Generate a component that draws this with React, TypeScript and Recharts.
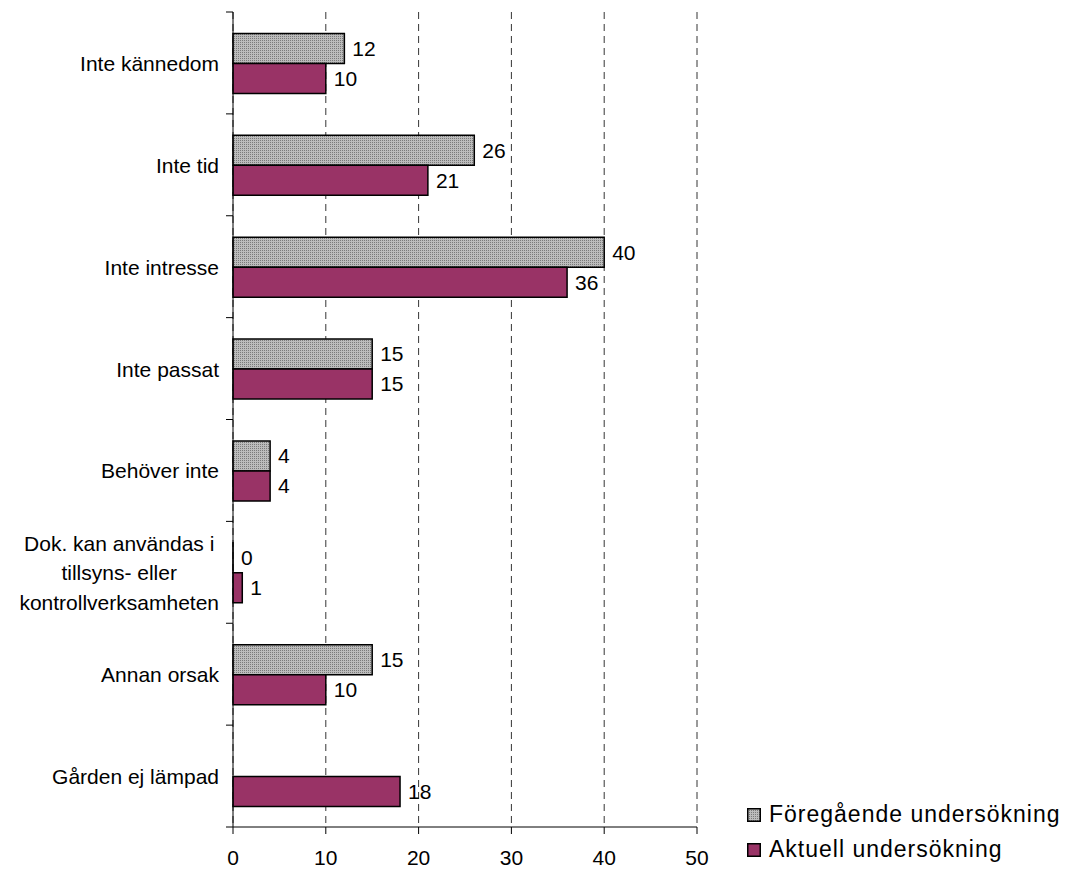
import * as React from "react";
import {
  Bar,
  BarChart,
  CartesianGrid,
  LabelList,
  Legend,
  XAxis,
  YAxis,
} from "recharts";

const FONT = "'Liberation Sans', Arial, sans-serif";
const MAROON = "#993366";

const categories = [
  "Inte kännedom",
  "Inte tid",
  "Inte intresse",
  "Inte passat",
  "Behöver inte",
  "Dok. kan användas i\ntillsyns- eller\nkontrollverksamheten",
  "Annan orsak",
  "Gården ej lämpad",
];
const foregaende = [12, 26, 40, 15, 4, 0, 15, null];
const aktuell = [10, 21, 36, 15, 4, 1, 10, 18];
const xTicks = [0, 10, 20, 30, 40, 50];

const seriesNames = {
  foregaende: "Föregående undersökning",
  aktuell: "Aktuell undersökning",
};

const data = categories.map((name, i) => ({
  name,
  foregaende: foregaende[i],
  aktuell: aktuell[i],
}));

const W = 1066;
const H = 874;
const PLOT_LEFT = 233;
const PLOT_TOP = 12;
const PLOT_BOTTOM = 827;
const BAND = (PLOT_BOTTOM - PLOT_TOP) / categories.length;

let measureCtx: CanvasRenderingContext2D | null = null;
function textWidth(s: string, size: number) {
  if (!measureCtx) {
    const c = document.createElement("canvas");
    measureCtx = c.getContext("2d");
  }
  if (!measureCtx) return s.length * size * 0.5;
  measureCtx.font = `${size}px ${FONT}`;
  return measureCtx.measureText(s).width;
}

function CategoryTick(props: any) {
  const { y, payload, index } = props;
  const half = payload && payload.offset ? payload.offset : BAND / 2;
  const lines = String(payload.value).split("\n");
  const right = PLOT_LEFT - 14;
  const lineH = 29.5;
  const maxW = Math.max(...lines.map((l) => textWidth(l, 21)));
  const cx = right - maxW / 2;
  const startY = y - ((lines.length - 1) * lineH) / 2;
  return (
    <g>
      <line x1={PLOT_LEFT - 7} x2={PLOT_LEFT} y1={y - half} y2={y - half} stroke="#000" />
      {index === categories.length - 1 && (
        <line x1={PLOT_LEFT - 7} x2={PLOT_LEFT} y1={y + half} y2={y + half} stroke="#000" />
      )}
      <text
        fontFamily={FONT}
        fontSize={21}
        fill="#000"
        textAnchor={lines.length > 1 ? "middle" : "end"}
        dominantBaseline="central"
      >
        {lines.map((l, i) => (
          <tspan key={i} x={lines.length > 1 ? cx : right} y={startY + i * lineH}>
            {l}
          </tspan>
        ))}
      </text>
    </g>
  );
}

function LegendContent() {
  const items = [
    { key: "foregaende", fill: "url(#dotsLegend)" },
    { key: "aktuell", fill: MAROON },
  ];
  return (
    <div style={{ fontFamily: FONT, fontSize: 23, color: "#000" }}>
      {items.map((it) => (
        <div
          key={it.key}
          style={{ display: "flex", alignItems: "center", height: 35, whiteSpace: "nowrap" }}
        >
          <svg width={14} height={14} style={{ marginRight: 8 }}>
            <defs>
              <pattern id="dotsLegend" width={2} height={2} patternUnits="userSpaceOnUse">
                <rect width={2} height={2} fill="#bcbcbc" />
                <rect width={1} height={1} fill="#7a7a7a" />
              </pattern>
            </defs>
            <rect x={0.75} y={0.75} width={12.5} height={12.5} fill={it.fill} stroke="#000" strokeWidth={1.5} />
          </svg>
          <span style={{ letterSpacing: 1 }}>
            {seriesNames[it.key as keyof typeof seriesNames]}
          </span>
        </div>
      ))}
    </div>
  );
}

// a zero value still gets a hairline bar so that its label "0" is drawn
const zeroVisible = (v: any) => (v === 0 ? 0.01 : 0);

export default function App() {
  return (
    <div style={{ position: "absolute", left: 0, top: 0, width: W, height: H, background: "#fff" }}>
      <BarChart
        width={W}
        height={H}
        data={data}
        layout="vertical"
        margin={{ top: PLOT_TOP, right: W - 697, bottom: 0, left: 0 }}
        barCategoryGap="21%"
        barGap={0}
      >
        <defs>
          <pattern id="dots" width={2} height={2} patternUnits="userSpaceOnUse">
            <rect width={2} height={2} fill="#bcbcbc" />
            <rect width={1} height={1} fill="#7a7a7a" />
          </pattern>
        </defs>
        <CartesianGrid horizontal={false} stroke="#000" strokeDasharray="7 5" strokeWidth={0.8} />
        <XAxis
          type="number"
          domain={[0, 50]}
          ticks={xTicks}
          height={H - PLOT_BOTTOM}
          axisLine={{ stroke: "#000" }}
          tickLine={{ stroke: "#000" }}
          tickSize={7}
          tickMargin={16}
          tick={{ fill: "#000", fontSize: 21, fontFamily: FONT }}
          interval={0}
        />
        <YAxis
          type="category"
          dataKey="name"
          width={PLOT_LEFT}
          axisLine={{ stroke: "#000" }}
          tickLine={false}
          tick={<CategoryTick />}
          interval={0}
        />
        <Legend
          layout="vertical"
          align="center"
          verticalAlign="middle"
          content={<LegendContent />}
          wrapperStyle={{ left: 747, top: 797, width: 319 }}
        />
        <Bar
          dataKey="foregaende"
          name={seriesNames.foregaende}
          fill="url(#dots)"
          stroke="#000"
          strokeWidth={1.5}
          minPointSize={zeroVisible}
          isAnimationActive={false}
        >
          <LabelList
            dataKey="foregaende"
            position="right"
            offset={8}
            fill="#000"
            fontSize={21}
            fontFamily={FONT}
          />
        </Bar>
        <Bar
          dataKey="aktuell"
          name={seriesNames.aktuell}
          fill={MAROON}
          stroke="#000"
          strokeWidth={1.5}
          isAnimationActive={false}
        >
          <LabelList
            dataKey="aktuell"
            position="right"
            offset={8}
            fill="#000"
            fontSize={21}
            fontFamily={FONT}
          />
        </Bar>
      </BarChart>
    </div>
  );
}
